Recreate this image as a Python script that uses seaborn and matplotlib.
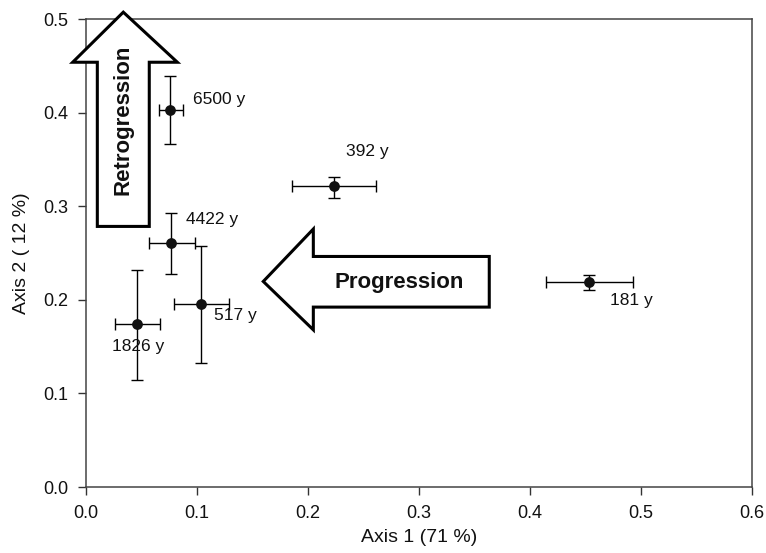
import matplotlib
matplotlib.use("Agg")
import matplotlib.pyplot as plt
from matplotlib.patches import Polygon
import numpy as np
import pandas as pd
import seaborn as sns

# Ordination scores of the chronosequence sites (mean with range)
site_labels = ["6500 y", "4422 y", "517 y", "1826 y", "181 y", "392 y"]
axis1 = [0.076, 0.077, 0.104, 0.046, 0.453, 0.223]
axis2 = [0.403, 0.261, 0.196, 0.174, 0.2185, 0.322]
axis1_low = [0.066, 0.057, 0.079, 0.026, 0.414, 0.186]
axis1_high = [0.087, 0.098, 0.129, 0.067, 0.493, 0.261]
axis2_low = [0.366, 0.228, 0.132, 0.114, 0.210, 0.309]
axis2_high = [0.439, 0.293, 0.258, 0.232, 0.226, 0.331]

x_ticks = [0.0, 0.1, 0.2, 0.3, 0.4, 0.5, 0.6]
y_ticks = [0.0, 0.1, 0.2, 0.3, 0.4, 0.5]

df = pd.DataFrame({"site": site_labels, "axis1": axis1, "axis2": axis2})

sns.set_style("ticks")
plt.rcParams["font.family"] = ["Liberation Sans", "DejaVu Sans"]

W, H = 766, 553
fig = plt.figure(figsize=(W / 100, H / 100), dpi=100)
ax = fig.add_axes([86 / W, 1 - 487 / H, 666 / W, 468 / H])

x = np.array(axis1)
y = np.array(axis2)
xerr = np.vstack([x - np.array(axis1_low), np.array(axis1_high) - x])
yerr = np.vstack([y - np.array(axis2_low), np.array(axis2_high) - y])

ax.errorbar(x, y, xerr=xerr, yerr=yerr, fmt="none", ecolor="black",
            elinewidth=1.0, capsize=4.5, capthick=1.0, zorder=2)
sns.scatterplot(data=df, x="axis1", y="axis2", ax=ax, color="#111111",
                s=60, edgecolor="#111111", linewidth=0, zorder=3, legend=False)

# label offsets in pixels from each point
offsets = {"6500 y": (23, 10), "4422 y": (15, 23), "517 y": (13, -12),
           "1826 y": (-25, -22), "181 y": (21, -18), "392 y": (12, 34)}
for lab, xi, yi in zip(site_labels, axis1, axis2):
    dx, dy = offsets[lab]
    ax.annotate(lab, (xi, yi), xytext=(dx, dy), textcoords="offset pixels",
                ha="left", va="center", fontsize=12.5, color="#111111")

# Retrogression arrow (pointing up)
retro = [(0.0336, 0.5073), (0.0823, 0.4538), (0.0570, 0.4538),
         (0.0570, 0.2784), (0.0102, 0.2784), (0.0102, 0.4538),
         (-0.0120, 0.4538)]
ax.add_patch(Polygon(retro, closed=True, facecolor="white", edgecolor="black",
                     linewidth=2.2, joinstyle="miter", clip_on=False, zorder=4))
ax.text(0.0330, 0.3925, "Retrogression", rotation=90, ha="center", va="center",
        fontsize=16, fontweight="bold", color="#111111", zorder=5)

# Progression arrow (pointing left)
prog = [(0.1597, 0.2196), (0.2048, 0.2756), (0.2048, 0.2463),
        (0.3633, 0.2463), (0.3633, 0.1922), (0.2048, 0.1922),
        (0.2048, 0.1679)]
ax.add_patch(Polygon(prog, closed=True, facecolor="white", edgecolor="black",
                     linewidth=2.2, joinstyle="miter", clip_on=False, zorder=4))
ax.text(0.2818, 0.2185, "Progression", ha="center", va="center",
        fontsize=16, fontweight="bold", color="#111111", zorder=5)

ax.set_xlim(0, 0.6)
ax.set_ylim(0, 0.5)
ax.set_xticks(x_ticks)
ax.set_yticks(y_ticks)
ax.set_xticklabels([f"{t:.1f}" for t in x_ticks])
ax.set_yticklabels([f"{t:.1f}" for t in y_ticks])
ax.tick_params(direction="out", length=6, width=1.0, colors="#333333",
               labelsize=13, labelcolor="#111111", pad=7)
for side in ["left", "right", "top", "bottom"]:
    ax.spines[side].set_visible(True)
    ax.spines[side].set_color("#444444")
    ax.spines[side].set_linewidth(1.1)

ax.set_xlabel("Axis 1 (71 %)", fontsize=14, color="#111111", labelpad=5)
ax.set_ylabel("Axis 2 ( 12 %)", fontsize=14, color="#111111", labelpad=9)

fig.savefig("out.png", dpi=100, facecolor="white")
